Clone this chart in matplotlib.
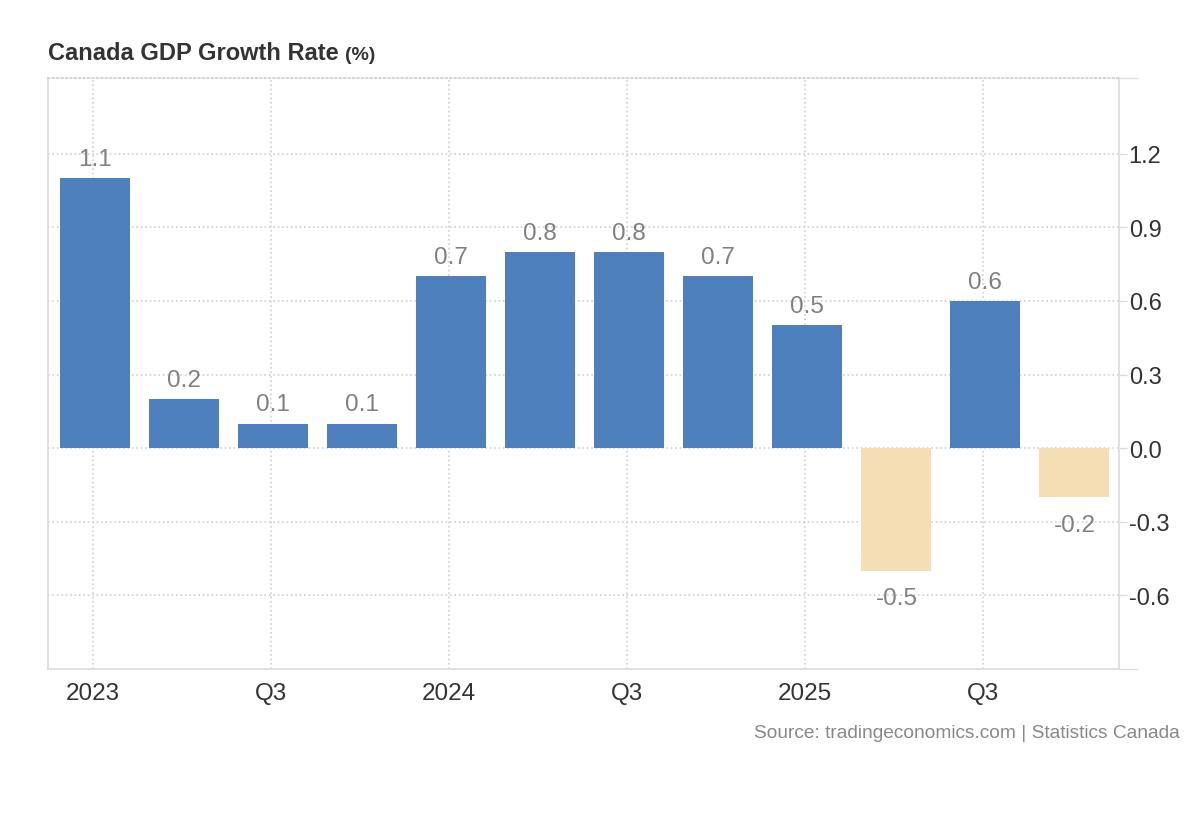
import matplotlib
matplotlib.use("Agg")
import matplotlib.pyplot as plt
import numpy as np

# Data
quarters = ["2023 Q1", "2023 Q2", "2023 Q3", "2023 Q4",
            "2024 Q1", "2024 Q2", "2024 Q3", "2024 Q4",
            "2025 Q1", "2025 Q2", "2025 Q3", "2025 Q4"]
growth = [1.1, 0.2, 0.1, 0.1, 0.7, 0.8, 0.8, 0.7, 0.5, -0.5, 0.6, -0.2]
tick_idx = [0, 2, 4, 6, 8, 10]
tick_labels = ["2023", "Q3", "2024", "Q3", "2025", "Q3"]
y_ticks = [-0.6, -0.3, 0.0, 0.3, 0.6, 0.9, 1.2]
y_min, y_max = -0.9, 1.51

plt.rcParams['font.family'] = ['Liberation Sans', 'DejaVu Sans']

fig = plt.figure(figsize=(12, 8.2), dpi=100)
ax = fig.add_axes([0.0404, 0.183, 0.8921, 0.721])

x = np.arange(len(growth))
colors = ["#4d80bc" if v >= 0 else "#f5deb3" for v in growth]
ax.bar(x, growth, width=0.786, color=colors, zorder=2)

# value labels
for xi, v in zip(x, growth):
    if v >= 0:
        ax.annotate(f"{v:.1f}", (xi, v), xytext=(0, 6), textcoords="offset points",
                    ha="center", va="bottom", fontsize=17.5, color="#808080")
    else:
        ax.annotate(f"{v:.1f}", (xi, v), xytext=(0, -12), textcoords="offset points",
                    ha="center", va="top", fontsize=17.5, color="#808080")

ax.set_xlim(-0.522, 11.5)
ax.set_ylim(y_min, y_max)

# grid ticks sit slightly left of bar centres (start of quarter)
ax.set_xticks([i - 0.027 for i in tick_idx])
ax.set_xticklabels(tick_labels)
ax.set_yticks(y_ticks)
ax.set_yticklabels([f"{t:.1f}" for t in y_ticks])
ax.set_yticks([y_min, y_max], minor=True)
ax.yaxis.tick_right()
ax.tick_params(axis="y", which="major", length=6, width=1, color="#dddddd", pad=1,
               labelsize=17, labelcolor="#333333")
ax.tick_params(axis="y", which="minor", length=14, width=1, color="#e0e0e0")
ax.tick_params(axis="x", length=0, pad=9.5, labelsize=17.5, labelcolor="#333333")

ax.grid(True, which="major", linestyle=":", color="#d0d0d0", linewidth=1.2, zorder=0)
ax.set_axisbelow(True)

for side in ["left", "right", "bottom"]:
    ax.spines[side].set_color("#dddddd")
    ax.spines[side].set_linewidth(1.3)
ax.spines["top"].set_color("#d0d0d0")
ax.spines["top"].set_linestyle(":")
ax.spines["top"].set_linewidth(1.2)

# title
t1 = fig.text(0.04, 0.927, "Canada GDP Growth Rate", fontsize=17, fontweight="bold",
              color="#333333", ha="left", va="baseline")
fig.canvas.draw()
bb = t1.get_window_extent()
fig.text(bb.x1 / fig.dpi / 12 + 0.005, 0.927, "(%)", fontsize=14, fontweight="bold",
         color="#333333", ha="left", va="baseline")

fig.text(0.983, 0.1, "Source: tradingeconomics.com | Statistics Canada",
         fontsize=13.8, color="#888888", ha="right", va="baseline")

fig.savefig("out.png", dpi=100)
